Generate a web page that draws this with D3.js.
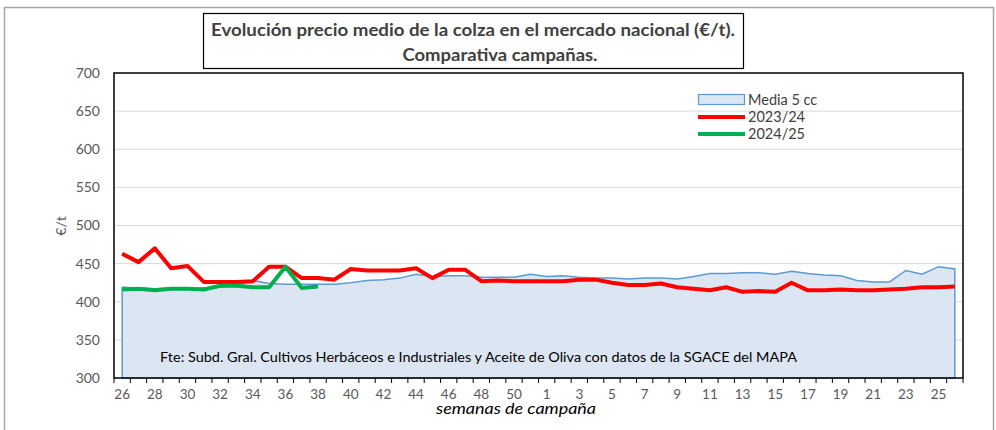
<!DOCTYPE html>
<html>
<head>
<meta charset="utf-8">
<script src="https://cdn.jsdelivr.net/npm/d3@7"></script>
<style>
  body { margin: 0; background: #fff; }
  svg { font-family: Lato, "Liberation Sans", sans-serif; }
</style>
</head>
<body>
<svg id="chart" width="996" height="430"></svg>
<script>
// semanas de campaña: 26..51 y 1..26
var weeks = d3.range(26, 52).concat(d3.range(1, 27));

var media5 = [419, 418, 417, 418, 418, 418, 419, 421, 428, 424, 423, 423, 423, 423, 425, 428, 429, 431,
  436, 433, 434, 434, 432, 432, 432, 436, 433, 434, 432, 431, 431, 430, 431, 431, 430, 433,
  437, 437, 438, 438, 436, 440, 437, 435, 434, 428, 426, 426, 441, 436, 446, 443];

var camp2324 = [463, 452, 470, 444, 447, 426, 426, 426, 427, 446, 446, 431, 431, 429, 443, 441, 441, 441,
  444, 431, 442, 442, 427, 428, 427, 427, 427, 427, 429, 429, 425, 422, 422, 424, 419, 417,
  415, 419, 413, 414, 413, 425, 415, 415, 416, 415, 415, 416, 417, 419, 419, 420];

var camp2425 = [416, 417, 415, 417, 417, 416, 421, 421, 419, 419, 446, 418, 420];

var yTicks = [300, 350, 400, 450, 500, 550, 600, 650, 700];

var svg = d3.select("#chart");
var pLeft = 114, pRight = 963, pTop = 73, pBottom = 378;

// marco exterior
svg.append("rect")
  .attr("x", 4.5).attr("y", 7.5).attr("width", 989).attr("height", 440)
  .attr("fill", "none").attr("stroke", "#a6a6a6").attr("stroke-width", 1.5);

var x = d3.scaleBand().domain(d3.range(weeks.length)).range([pLeft, pRight]);
var y = d3.scaleLinear().domain([300, 700]).range([pBottom, pTop]);
var cx = i => x(i) + x.bandwidth() / 2;

// rejilla
svg.append("g").selectAll("line")
  .data(yTicks.slice(1, -1))
  .enter().append("line")
  .attr("x1", pLeft).attr("x2", pRight)
  .attr("y1", d => y(d)).attr("y2", d => y(d))
  .attr("stroke", "#d9d9d9").attr("stroke-width", 1);

// area media 5 campañas
var area = d3.area()
  .x((d, i) => cx(i))
  .y0(y(300))
  .y1(d => y(d));
svg.append("path")
  .datum(media5)
  .attr("d", area)
  .attr("fill", "#dce6f2")
  .attr("stroke", "#5b9bd5")
  .attr("stroke-width", 1.5);

var line = d3.line().x((d, i) => cx(i)).y(d => y(d));

svg.append("path").datum(camp2324).attr("d", line)
  .attr("fill", "none").attr("stroke", "#ff0000").attr("stroke-width", 4)
  .attr("stroke-linejoin", "round");
svg.append("path").datum(camp2425).attr("d", line)
  .attr("fill", "none").attr("stroke", "#00b050").attr("stroke-width", 4)
  .attr("stroke-linejoin", "round");

// borde del area de trazado
svg.append("rect")
  .attr("x", pLeft).attr("y", pTop).attr("width", pRight - pLeft).attr("height", pBottom - pTop)
  .attr("fill", "none").attr("stroke", "#000").attr("stroke-width", 1.5);

// eje Y
var yAxis = svg.append("g")
  .attr("transform", "translate(" + pLeft + ",0)")
  .call(d3.axisLeft(y).tickValues(yTicks).tickSize(0).tickPadding(14));
yAxis.select(".domain").remove();
yAxis.selectAll("text")
  .attr("font-size", 14).attr("fill", "#595959").attr("font-family", "Lato, sans-serif");

svg.append("text")
  .attr("transform", "translate(66,226) rotate(-90)")
  .attr("text-anchor", "middle")
  .attr("font-size", 14).attr("fill", "#595959")
  .text("€/t");

// eje X: marcas en limites de categoria, etiqueta cada dos semanas
var xAxis = svg.append("g")
  .attr("transform", "translate(0," + pBottom + ")");
xAxis.selectAll("line")
  .data(d3.range(weeks.length + 1))
  .enter().append("line")
  .attr("x1", i => pLeft + i * x.step()).attr("x2", i => pLeft + i * x.step())
  .attr("y1", 0).attr("y2", 5)
  .attr("stroke", "#000").attr("stroke-width", 1);
xAxis.selectAll("text")
  .data(d3.range(0, weeks.length, 2))
  .enter().append("text")
  .attr("x", i => cx(i)).attr("y", 21)
  .attr("text-anchor", "middle")
  .attr("font-size", 13.5).attr("fill", "#595959")
  .text(i => weeks[i]);

svg.append("text")
  .attr("x", 516).attr("y", 414)
  .attr("text-anchor", "middle")
  .attr("font-size", 15).attr("font-style", "italic").attr("fill", "#000")
  .attr("textLength", 160).attr("lengthAdjust", "spacingAndGlyphs")
  .text("semanas de campaña");

// fuente
svg.append("text")
  .attr("x", 160).attr("y", 362)
  .attr("font-size", 13.5).attr("fill", "#000")
  .attr("textLength", 637).attr("lengthAdjust", "spacingAndGlyphs")
  .text("Fte: Subd. Gral. Cultivos Herbáceos e Industriales y Aceite de Oliva con datos de la SGACE del MAPA");

// leyenda
var legend = svg.append("g").attr("transform", "translate(698,0)");
legend.append("rect")
  .attr("x", 0.5).attr("y", 94.5).attr("width", 46).attr("height", 10)
  .attr("fill", "#dce6f2").attr("stroke", "#5b9bd5").attr("stroke-width", 1.2);
legend.append("line").attr("x1", 0).attr("x2", 47).attr("y1", 117).attr("y2", 117)
  .attr("stroke", "#ff0000").attr("stroke-width", 4);
legend.append("line").attr("x1", 0).attr("x2", 47).attr("y1", 134).attr("y2", 134)
  .attr("stroke", "#00b050").attr("stroke-width", 4);
var legendLabels = ["Media 5 cc", "2023/24", "2024/25"];
legend.selectAll("text.lbl")
  .data(legendLabels)
  .enter().append("text")
  .attr("class", "lbl")
  .attr("x", 50).attr("y", (d, i) => 105 + i * 17)
  .attr("font-size", 14.5).attr("fill", "#404040")
  .text(d => d);

// titulo
svg.append("rect")
  .attr("x", 203.5).attr("y", 13.5).attr("width", 540).attr("height", 55)
  .attr("fill", "#fff").attr("stroke", "#000").attr("stroke-width", 1.2);
svg.append("text")
  .attr("x", 473).attr("y", 36)
  .attr("text-anchor", "middle")
  .attr("font-size", 16.5).attr("font-weight", "bold").attr("fill", "#404040")
  .attr("textLength", 524).attr("lengthAdjust", "spacingAndGlyphs")
  .text("Evolución precio medio de la colza en el mercado nacional (€/t).");
svg.append("text")
  .attr("x", 500).attr("y", 61)
  .attr("text-anchor", "middle")
  .attr("font-size", 16.5).attr("font-weight", "bold").attr("fill", "#404040")
  .attr("textLength", 195).attr("lengthAdjust", "spacingAndGlyphs")
  .text("Comparativa campañas.");
</script>
</body>
</html>
